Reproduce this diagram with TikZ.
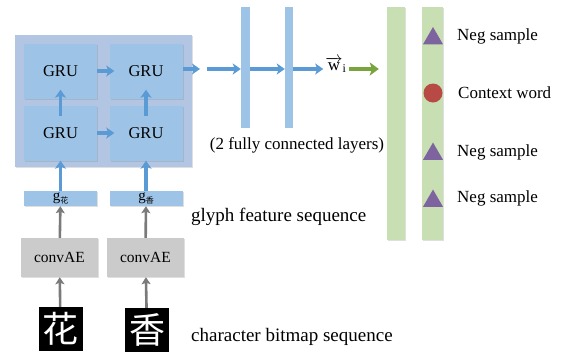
\documentclass[tikz,border=0pt]{standalone}
\usepackage{fontspec}
\setmainfont{Liberation Serif}
\newfontfamily\cjk{Noto Sans CJK SC}
\usepackage{tikz}
\usetikzlibrary{positioning,shapes.geometric,shadows,arrows.meta}
\definecolor{gruBlue}{HTML}{9DC3E6}
\definecolor{outerBlue}{HTML}{B2C6E4}
\definecolor{arrowBlue}{HTML}{5B9BD5}
\definecolor{aeGray}{HTML}{CBCBCB}
\definecolor{darkGray}{HTML}{7A7A7A}
\definecolor{embGreen}{HTML}{C8DFB4}
\definecolor{arrowGreen}{HTML}{78A53E}
\definecolor{negPurple}{HTML}{7E649E}
\definecolor{ctxRed}{HTML}{B84A45}
\tikzset{
  softshadow/.style={drop shadow={opacity=0.25, shadow xshift=1pt, shadow yshift=-1.2pt}},
  gru/.style={fill=gruBlue, minimum width=73pt, minimum height=55pt, inner sep=0pt,
    font=\fontsize{16.5}{18}\selectfont, softshadow},
  gvec/.style={fill=gruBlue, minimum width=73pt, minimum height=15pt, inner sep=0pt,
    font=\fontsize{15}{15}\selectfont, softshadow},
  convae/.style={fill=aeGray, minimum width=77pt, minimum height=39pt, inner sep=0pt,
    font=\fontsize{15.5}{17}\selectfont, softshadow},
  bitmap/.style={fill=black, text=white, minimum size=44pt, inner sep=0pt,
    font=\fontsize{36}{36}\selectfont\cjk},
  fcbar/.style={fill=gruBlue, minimum height=121pt, inner sep=0pt},
  embbar/.style={fill=embGreen, minimum height=233pt, inner sep=0pt, softshadow},
  negmark/.style={regular polygon, regular polygon sides=3, fill=negPurple, minimum size=23pt, inner sep=0pt},
  ctxmark/.style={circle, fill=ctxRed, minimum size=19pt, inner sep=0pt},
  lbl/.style={anchor=west, inner sep=0pt, font=\fontsize{17}{19}\selectfont},
  biglbl/.style={anchor=west, inner sep=0pt, font=\fontsize{19}{21}\selectfont},
  bluearrow/.style={draw=arrowBlue, line width=3.2pt, -{Stealth[length=8pt, width=11pt, inset=2pt]}},
  grayarrow/.style={draw=darkGray, line width=2.6pt, -{Stealth[length=7pt, width=9pt, inset=1.5pt]}},
  greenarrow/.style={draw=arrowGreen, line width=3.8pt, -{Stealth[length=9pt, width=13pt, inset=2pt]}}
}
\newcommand{\gsub}[1]{g\raisebox{-2.5pt}{\fontsize{8}{8}\selectfont\cjk #1}}

\begin{document}
\begin{tikzpicture}[x=1pt, y=-1pt]
\useasboundingbox (0,0) rectangle (564,354);
% GRU block
\fill[outerBlue, softshadow] (15,35) rectangle (192,167);
\node[gru] (gru11) at (60.5,71) {GRU};
\node[gru] (gru12) at (146,71) {GRU};
\node[gru] (gru21) at (60.5,133) {GRU};
\node[gru] (gru22) at (146,133) {GRU};
\draw[bluearrow, shorten >=-5pt] (gru11) -- (gru12);
\draw[bluearrow, shorten >=-5pt] (gru21) -- (gru22);
\draw[bluearrow, shorten <=-11pt, shorten >=-9pt] (gru21) -- (gru11);
\draw[bluearrow, shorten <=-11pt, shorten >=-9pt] (gru22) -- (gru12);
% glyph features, encoders, bitmaps
\node[gvec] (g1) at (60.5,198.5) {\gsub{花}};
\node[gvec] (g2) at (146,198.5) {\gsub{香}};
\node[convae] (ae1) at (59.5,257.5) {convAE};
\node[convae] (ae2) at (145.5,257.5) {convAE};
\node[bitmap] (bm1) at (60.5,329) {花};
\node[bitmap] (bm2) at (147,330) {香};
\draw[bluearrow] (g1) -- (gru21);
\draw[bluearrow] (g2) -- (gru22);
\draw[grayarrow] (ae1) -- (g1);
\draw[grayarrow] (ae2) -- (g2);
\draw[grayarrow] (bm1) -- (ae1);
\draw[grayarrow] (bm2) -- (ae2);
\node[biglbl] (glbl) at (191,217) {glyph feature sequence};
\node[biglbl] (blbl) at (191,337) {character bitmap sequence};
% fully connected layers
\node[fcbar, minimum width=9pt] (fc1) at (245.5,67.5) {};
\node[fcbar, minimum width=8pt] (fc2) at (289,67.5) {};
\node[font=\fontsize{17}{19}\selectfont, inner sep=0pt] (fclbl) at (297,145) {(2 fully connected layers)};
\coordinate (gapa) at (200,69);
\coordinate (gapb) at (207,69);
\draw[bluearrow] (gru12.east |- gapa) -- (gapa);
\draw[bluearrow] (gapb) -- (gapb -| fc1.west);
\draw[bluearrow] (fc1.east |- gapb) -- (gapb -| fc2.west);
\node[inner sep=2pt, font=\fontsize{17}{19}\selectfont] (wi) at (336,65) {$\overrightarrow{\mathrm{w}}_{\mathrm{i}}$};
\draw[bluearrow] (fc2.east |- gapb) -- (gapb -| wi.west);
% embeddings
\node[embbar, minimum width=18pt] (emb1) at (396,123.5) {};
\node[embbar, minimum width=21pt] (emb2) at (432.5,123.5) {};
\draw[greenarrow, shorten >=8pt] (wi.east |- gapb) -- (gapb -| emb1.west);
\node[negmark] (neg1) at (433,38.5) {};
\node[ctxmark] (ctx) at (433,93) {};
\node[negmark] (neg2) at (433,154) {};
\node[negmark] (neg3) at (433,201) {};
\node[lbl] (nl1) at (457,36) {Neg sample};
\node[lbl] (cl) at (458,93) {Context word};
\node[lbl] (nl2) at (457,152) {Neg sample};
\node[lbl] (nl3) at (457,198) {Neg sample};
\end{tikzpicture}
\end{document}
